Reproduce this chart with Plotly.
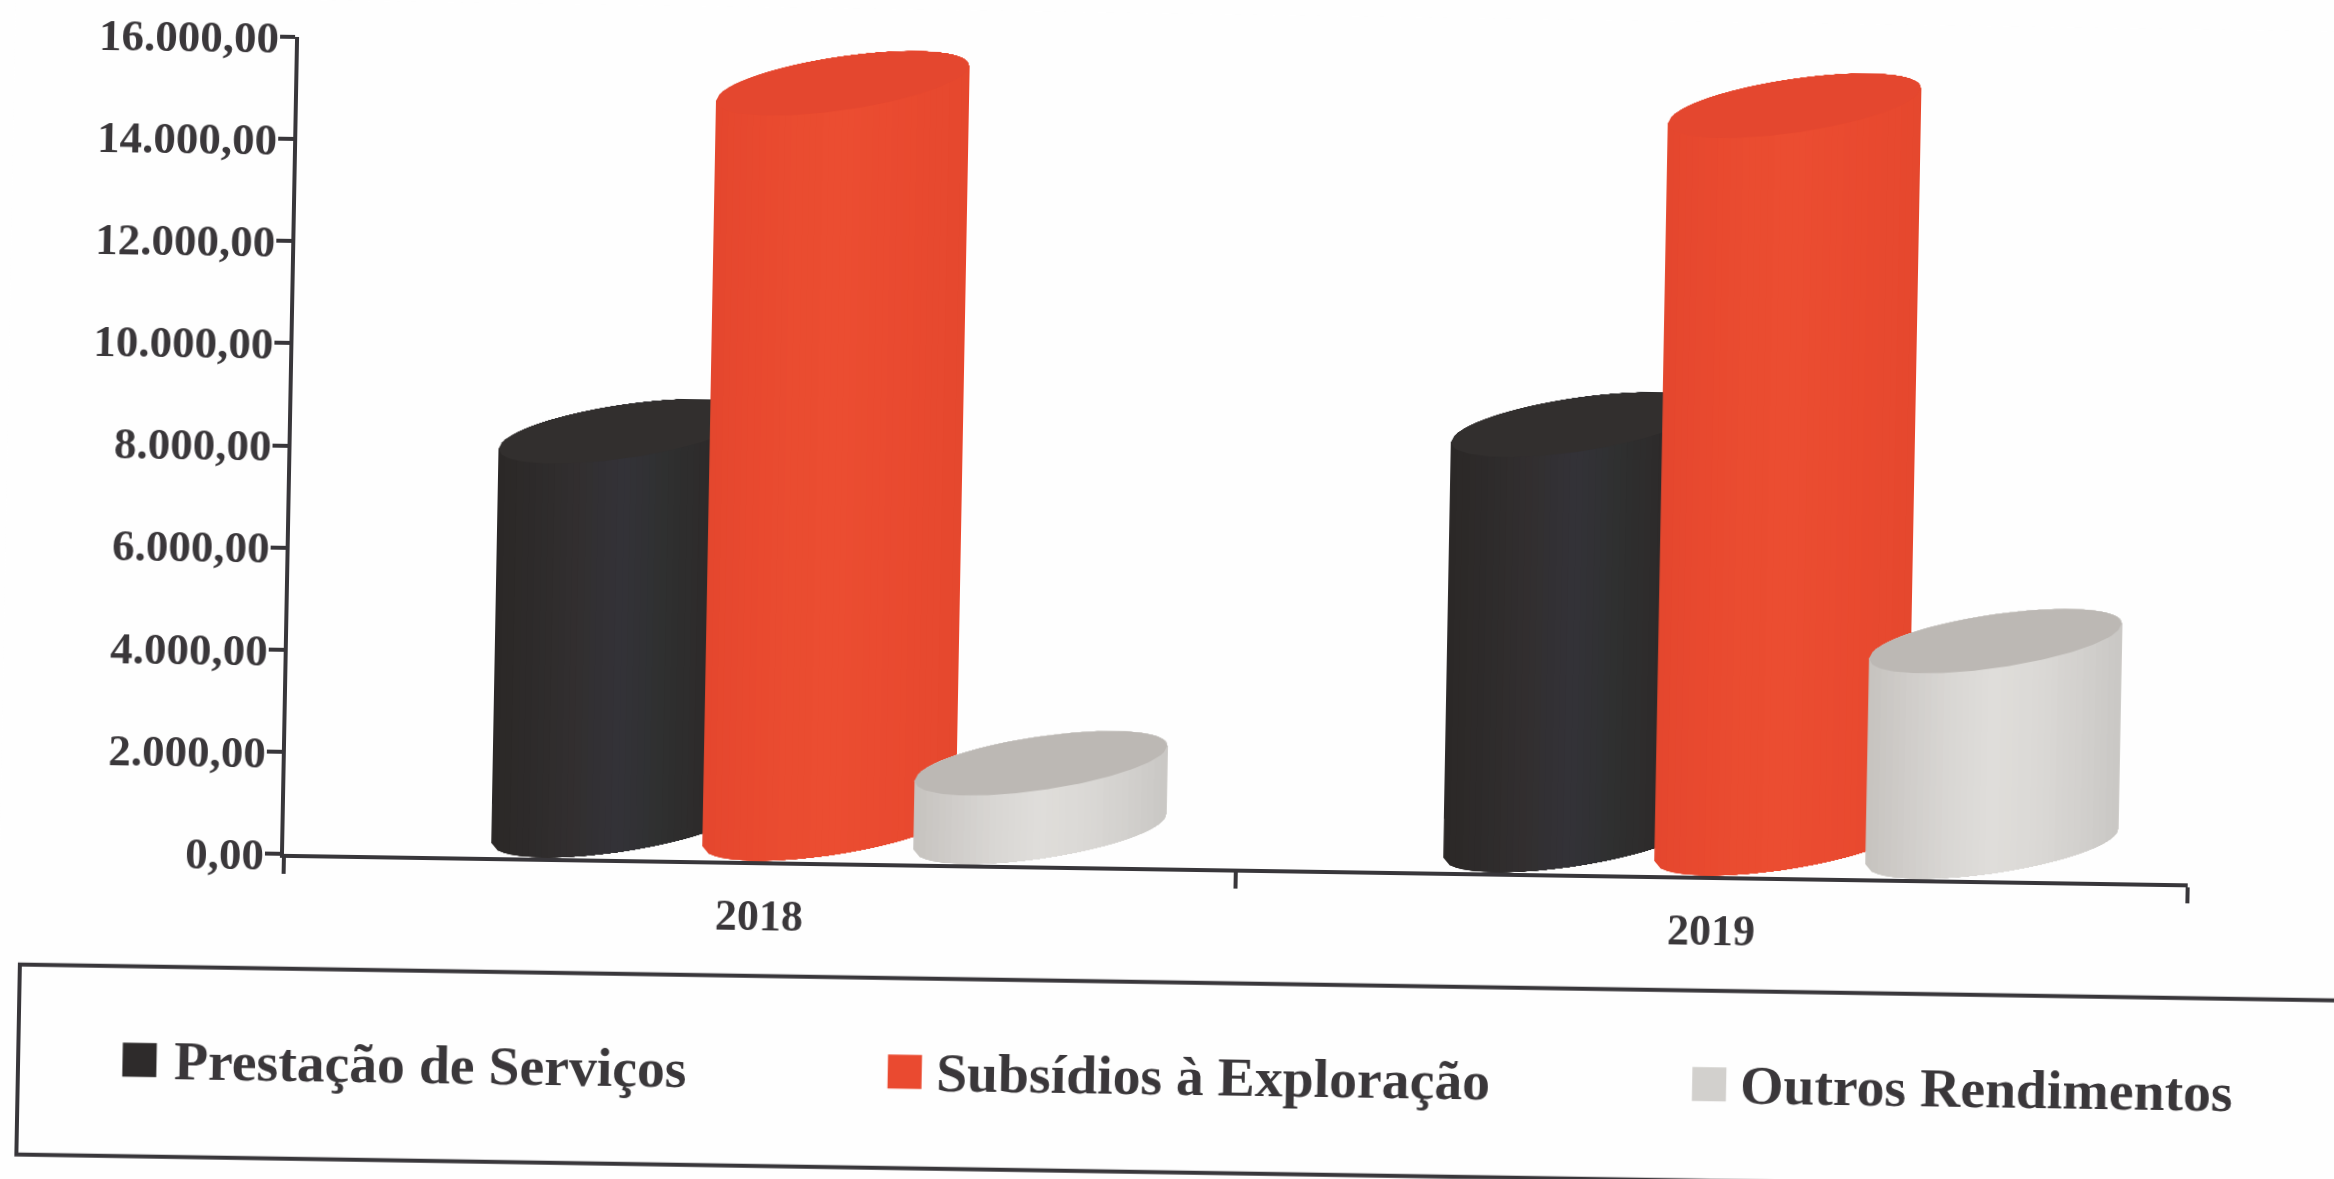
import numpy as np
import plotly.graph_objects as go

# ---- data ----
years = ["2018", "2019"]
series_names = ["Prestação de Serviços", "Subsídios à Exploração", "Outros Rendimentos"]
prestacao = [7710, 8130]
subsidios = [14590, 14440]
outros = [1340, 4020]
y_ticks = [0, 2000, 4000, 6000, 8000, 10000, 12000, 14000, 16000]

# ---- styling ----
side_stops = [
    ["#2b2827", "#2e2b2b", "#322f30", "#333238", "#2f3030", "#2d2a2a", "#282524"],
    ["#e4472e", "#e8492f", "#ea4c30", "#eb4d31", "#ea4b30", "#e8492f", "#e5482e"],
    ["#c6c3bf", "#d0cdca", "#d9d7d4", "#dfddda", "#dbd9d6", "#d3d1ce", "#c9c7c4"],
]
top_shades = ["#322f2e", "#e4472f", "#bcb8b4"]
legend_colors = ["#2e2b2b", "#ea4a30", "#d2d0cd"]
text_color = "#3a373a"
line_color = "#38363a"
font_family = "Liberation Serif"
N_STRIPS = 40

# ---- frame geometry (pixels of the un-tilted frame) ----
W, H = 2400, 1220
LEFT, TOP, PW, PH = 284, 37, 1904, 817
SKEW_X = 0.0155            # scan tilt of horizontal lines
SKEW_Y = 0.0185            # scan tilt of vertical lines
PX_Y = 16000 / PH          # value units per pixel
PX_X = 2 / PW              # category units per pixel
BAR_W = 252 * PX_X
OFFSETS = [-269 * PX_X, -58 * PX_X, 153 * PX_X]
FLOOR = 34 * PX_Y          # bars stand on the 3D floor, in front of the axis
RISE = 19.5 * PX_Y         # slope of the cylinder ends
HALF = 27 * PX_Y           # half height of the cylinder ends


def px(x):
    return (x - LEFT) / PW


def py(y):
    return 1 - (y - TOP) / PH


def end_edge(cx, cy, s, sign):
    """Upper (sign=1) or lower (sign=-1) rim of a cylinder end at s in [-1, 1]."""
    return cx + s * BAR_W / 2, cy + RISE * s + sign * HALF * np.sqrt(np.clip(1 - s * s, 0, 1))


def shade_ramp(stops, n):
    """Smooth left-to-right shading of a cylinder side."""
    rgb = np.array([[int(c[i:i + 2], 16) for i in (1, 3, 5)] for c in stops], float)
    pos = np.linspace(0, 1, len(stops))
    t = (np.arange(n) + 0.5) / n
    return ["#%02x%02x%02x" % tuple(int(round(np.interp(u, pos, rgb[:, k]))) for k in range(3)) for u in t]


fig = go.Figure()
all_values = [prestacao, subsidios, outros]

for name, values, off, stops in zip(series_names, all_values, OFFSETS, side_stops):
    fig.add_trace(go.Bar(
        x=years, y=[v - 2 * RISE for v in values], base=FLOOR + RISE,
        offset=off, width=BAR_W, name=name, showlegend=False,
        marker=dict(color=stops[3], line=dict(width=0)),
    ))

for name, values, off, stops, top in zip(series_names, all_values, OFFSETS, side_stops, top_shades):
    shades = shade_ramp(stops, N_STRIPS)
    for i, v in enumerate(values):
        cx = i + off + BAR_W / 2
        base_c, top_c = FLOOR, FLOOR + v
        for j, col in enumerate(shades):
            s0 = -1 + 2 * j / N_STRIPS
            s = np.linspace(s0, 1, 40)
            xu, yu = end_edge(cx, top_c, s, 1)
            xl, yl = end_edge(cx, base_c, s, -1)
            fig.add_trace(go.Scatter(
                x=np.r_[xu, xl[::-1]], y=np.r_[yu, yl[::-1]], xaxis="x2", yaxis="y",
                mode="lines", fill="toself", fillcolor=col, line=dict(width=0),
                hoverinfo="skip", showlegend=False, cliponaxis=False,
            ))
        s = np.linspace(-1, 1, 80)
        xu, yu = end_edge(cx, top_c, s, 1)
        xl, yl = end_edge(cx, top_c, s, -1)
        fig.add_trace(go.Scatter(
            x=np.r_[xu, xl[::-1]], y=np.r_[yu, yl[::-1]], xaxis="x2", yaxis="y",
            mode="lines", fill="toself", fillcolor=top, line=dict(width=0),
            hoverinfo="skip", showlegend=False, cliponaxis=False,
        ))

# ---- legend panel ----
shapes = [dict(type="rect", xref="paper", yref="paper", x0=px(22), x1=px(2395), y0=py(1158.5), y1=py(968.5),
               line=dict(color=line_color, width=4), fillcolor="rgba(0,0,0,0)")]
annotations = []
marker_x = [143.4, 908.6, 1713]
text_x = [175.5, 937.5, 1742]
for name, col, mx, tx in zip(series_names, legend_colors, marker_x, text_x):
    shapes.append(dict(type="rect", xref="paper", yref="paper", x0=px(mx - 17), x1=px(mx + 17),
                       y0=py(1062 + 17), y1=py(1062 - 17), line=dict(width=0), fillcolor=col))
    annotations.append(dict(text=name, xref="paper", yref="paper", x=px(tx), y=py(1062),
                            xanchor="left", yanchor="middle", showarrow=False,
                            font=dict(family=font_family, size=55.7, color=text_color, weight=700)))

fig.update_layout(
    width=W, height=H, barmode="overlay", showlegend=False, separators=",.",
    margin=dict(l=LEFT, t=TOP, r=W - LEFT - PW, b=H - TOP - PH, autoexpand=False, pad=0),
    paper_bgcolor="#fefefe", plot_bgcolor="rgba(0,0,0,0)",
    shapes=shapes, annotations=annotations,
    xaxis=dict(type="category", categoryorder="array", categoryarray=years, range=[-0.5, 1.5],
               tickson="boundaries", ticks="outside", ticklen=16, tickwidth=4, tickcolor=line_color,
               showline=True, linewidth=4, linecolor=line_color, showgrid=False, zeroline=False,
               ticklabelstandoff=12,
               tickfont=dict(family=font_family, size=44, color=text_color, weight=700)),
    xaxis2=dict(overlaying="x", anchor="y", range=[-0.5, 1.5], visible=False),
    yaxis=dict(range=[0, 16000], tickmode="array", tickvals=y_ticks, tickformat=",.2f",
               ticks="outside", ticklen=15, tickwidth=4, tickcolor=line_color,
               showline=True, linewidth=4, linecolor=line_color, showgrid=False, zeroline=False,
               ticklabelstandoff=-8,
               tickfont=dict(family=font_family, size=45, color=text_color, weight=700)),
)

# the source is a slightly skewed scan: the whole chart sits tilted on the page
tilt_js = f"""
var gd = document.getElementById('{{plot_id}}');
document.body.style.margin = '0';
document.documentElement.style.overflow = 'hidden';
document.body.style.overflow = 'hidden';
document.body.style.background = '#fefefe';
gd.style.transformOrigin = '{LEFT}px {TOP + PH}px';
gd.style.transform = 'matrix(1, {SKEW_X}, {-SKEW_Y}, 1, 0, 0)';
gd.style.filter = 'blur(0.6px)';
"""
fig.write_html("out.html", post_script=tilt_js, config=dict(displayModeBar=False))
